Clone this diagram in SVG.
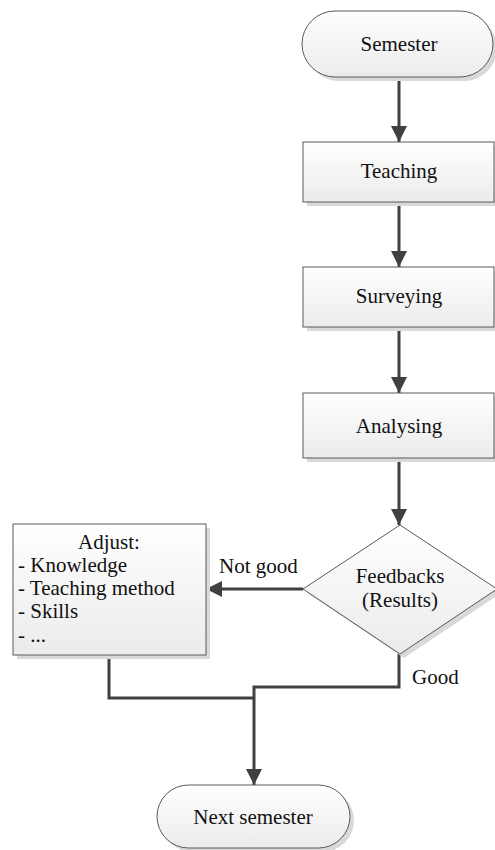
<svg xmlns="http://www.w3.org/2000/svg" width="495" height="850" viewBox="0 0 495 850">
  <defs>
    <linearGradient id="fillGrad" x1="0" y1="0" x2="0" y2="1">
      <stop offset="0" stop-color="#ffffff"/>
      <stop offset="1" stop-color="#ebebeb"/>
    </linearGradient>
    <marker id="arrow" viewBox="0 0 16 16" refX="16" refY="8" markerWidth="16" markerHeight="16" markerUnits="userSpaceOnUse" orient="auto">
      <path d="M0,0 L16,8 L0,16 Z" fill="#404040"/>
    </marker>
  </defs>
  <style>
    .shape { fill: url(#fillGrad); stroke: #5a5a5a; stroke-width: 1; }
    .shadow { fill: #d9d9d9; stroke: none; }
    .label { font-family: "Liberation Serif", "Times New Roman", serif; font-size: 21px; fill: #111111; }
    .mid { text-anchor: middle; }
    .conn { fill: none; stroke: #404040; stroke-width: 3; }
  </style>
  <rect width="495" height="850" fill="#ffffff"/>

  <!-- connectors -->
  <g id="connectors">
    <line class="conn" x1="399" y1="77" x2="399" y2="142" marker-end="url(#arrow)"/>
    <line class="conn" x1="399" y1="202" x2="399" y2="267" marker-end="url(#arrow)"/>
    <line class="conn" x1="399" y1="327" x2="399" y2="393" marker-end="url(#arrow)"/>
    <line class="conn" x1="399" y1="458" x2="399" y2="525" marker-end="url(#arrow)"/>
    <line class="conn" x1="303" y1="589" x2="206" y2="589" marker-end="url(#arrow)"/>
    <polyline class="conn" points="109,655 109,698 254,698"/>
    <polyline class="conn" points="399,654 399,687 254,687 254,785" marker-end="url(#arrow)"/>
    <text class="label" x="219" y="573">Not good</text>
    <text class="label" x="412" y="684">Good</text>
  </g>

  <g id="semester">
    <rect class="shadow" x="306" y="15" width="191" height="66" rx="33"/>
    <rect class="shape" x="302" y="11" width="191" height="66" rx="33"/>
    <text class="label mid" x="399" y="51">Semester</text>
  </g>

  <g id="teaching">
    <rect class="shadow" x="307" y="146" width="191" height="60"/>
    <rect class="shape" x="303" y="142" width="191" height="60"/>
    <text class="label mid" x="399" y="178">Teaching</text>
  </g>

  <g id="surveying">
    <rect class="shadow" x="307" y="271" width="191" height="60"/>
    <rect class="shape" x="303" y="267" width="191" height="60"/>
    <text class="label mid" x="399" y="303">Surveying</text>
  </g>

  <g id="analysing">
    <rect class="shadow" x="307" y="397" width="191" height="65"/>
    <rect class="shape" x="303" y="393" width="191" height="65"/>
    <text class="label mid" x="399" y="433">Analysing</text>
  </g>

  <g id="feedbacks">
    <polygon class="shadow" points="404,529 501,593 404,658 307,593"/>
    <polygon class="shape" points="400,525 497,589 400,654 303,589"/>
    <text class="label mid" x="400" y="583">Feedbacks</text>
    <text class="label mid" x="400" y="607">(Results)</text>
  </g>

  <g id="adjust">
    <rect class="shadow" x="17" y="528" width="193" height="131"/>
    <rect class="shape" x="13" y="524" width="193" height="131"/>
    <text class="label mid" x="109" y="549">Adjust:</text>
    <text class="label" x="18" y="572">- Knowledge</text>
    <text class="label" x="18" y="595">- Teaching method</text>
    <text class="label" x="18" y="618">- Skills</text>
    <text class="label" x="18" y="642">- ...</text>
  </g>

  <g id="next-semester">
    <rect class="shadow" x="161" y="789" width="193" height="63" rx="31.5"/>
    <rect class="shape" x="157" y="785" width="193" height="63" rx="31.5"/>
    <text class="label mid" x="253" y="824">Next semester</text>
  </g>
</svg>
